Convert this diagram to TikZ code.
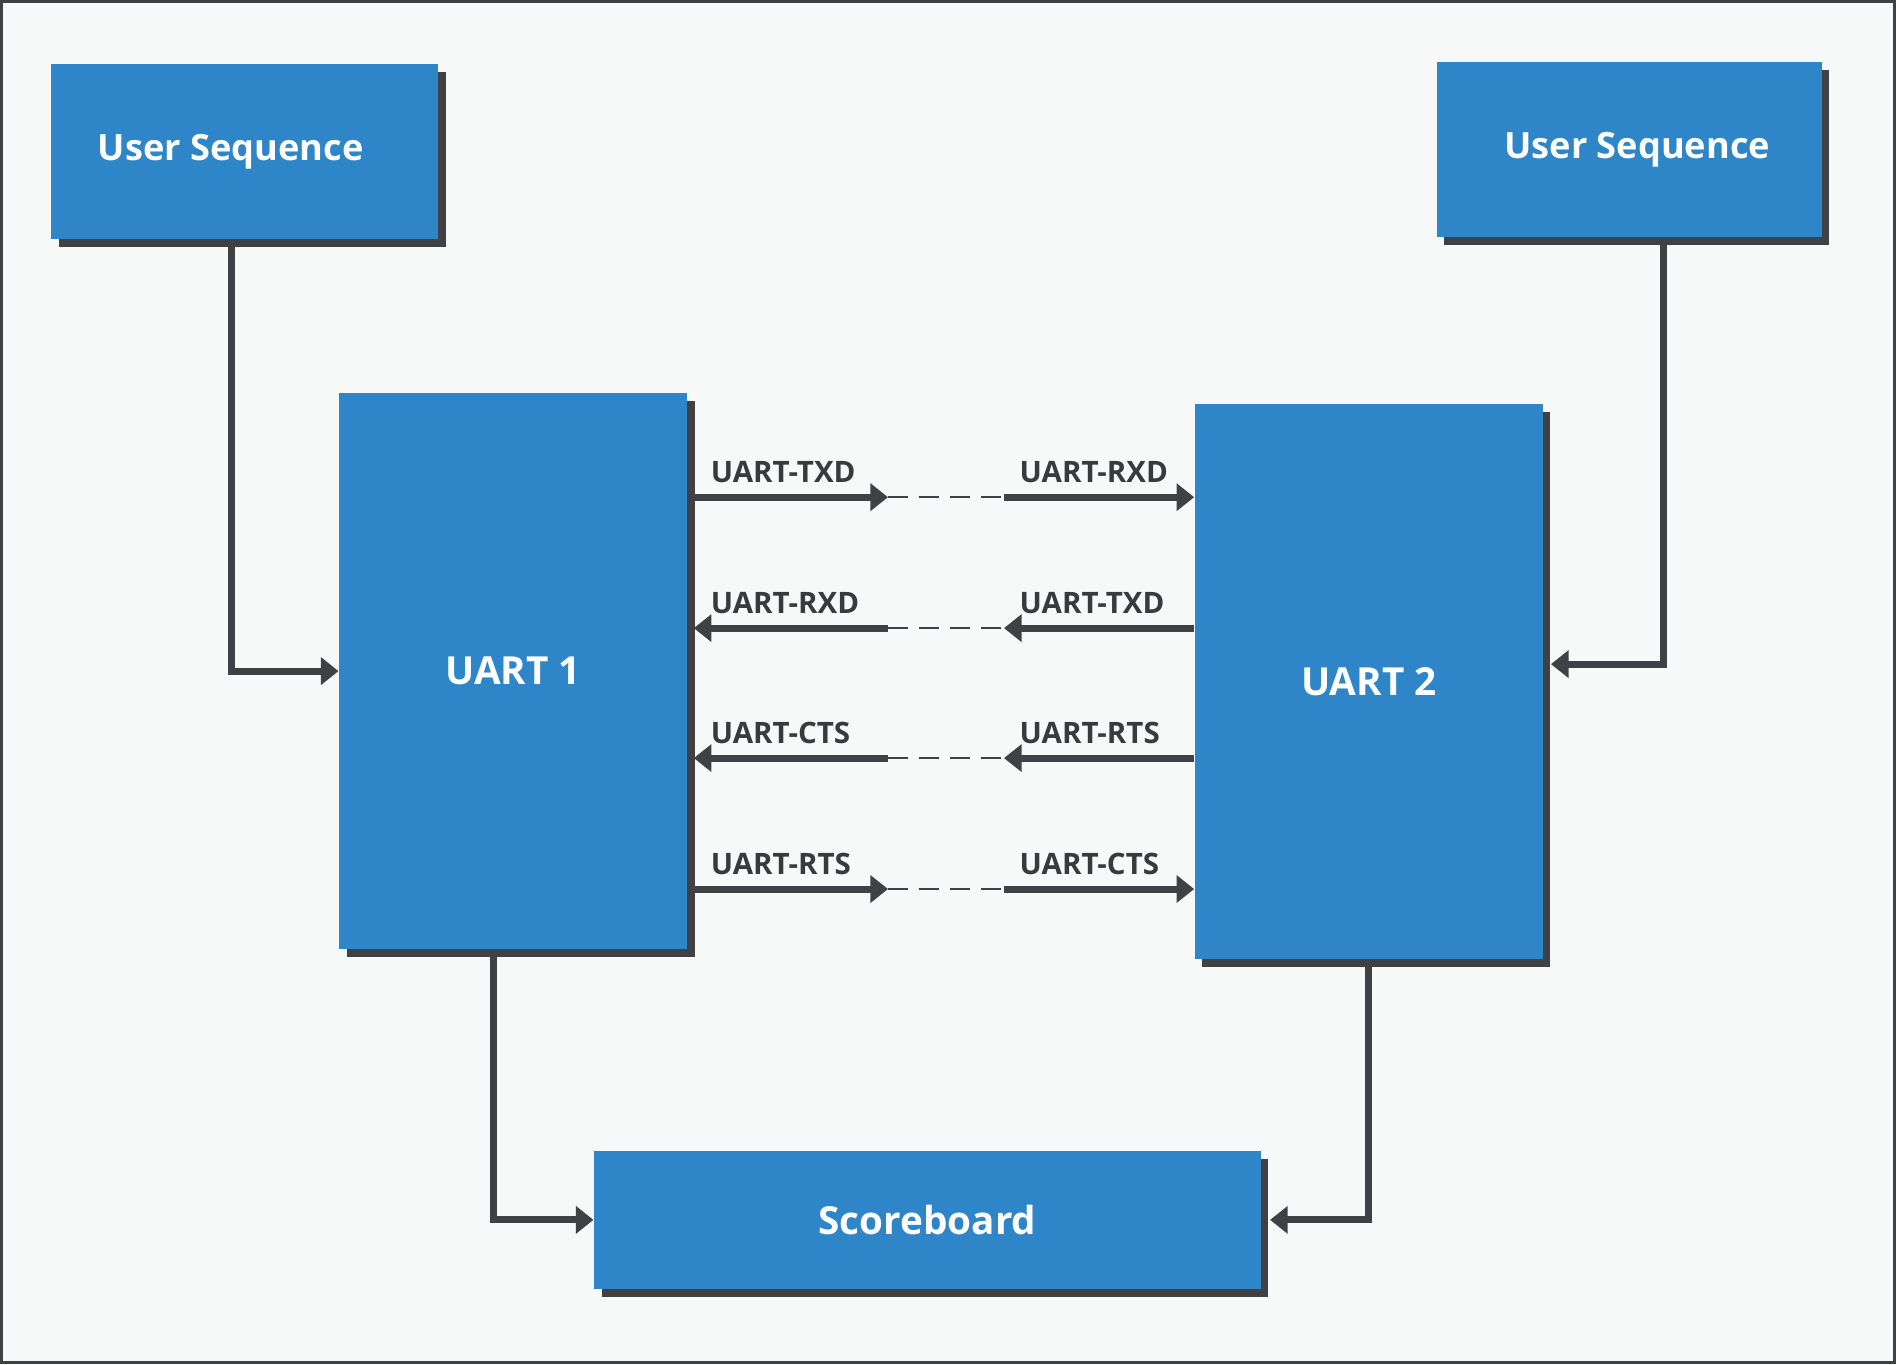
\documentclass[tikz,border=0pt]{standalone}
\usepackage{fontspec}
\setmainfont{Open Sans}
\usetikzlibrary{arrows.meta,shadows}
\definecolor{boxblue}{RGB}{46,134,200}
\definecolor{linegray}{RGB}{64,65,69}
\definecolor{paper}{RGB}{247,249,249}
\definecolor{labelgray}{RGB}{58,58,60}

\begin{document}
\begin{tikzpicture}[
	block/.style={fill=boxblue, text=white, font=\fontsize{11}{13}\selectfont\bfseries, inner sep=0pt,
		drop shadow={shadow xshift=0.075cm, shadow yshift=-0.08cm, fill=linegray, opacity=1}},
	seqblock/.style={block, font=\fontsize{10.3}{12}\selectfont\bfseries, minimum height=1.75cm},
	link/.style={draw=linegray, line width=2pt, -{Triangle[length=5pt,width=7.6pt]}},
	wire/.style={draw=linegray, line width=0.6pt, dash pattern=on 0.2cm off 0.11cm},
	sig/.style={text=labelgray, font=\fontsize{8.4}{10}\selectfont\bfseries, inner sep=0pt, anchor=base west}]
		\fill [paper, draw=linegray, line width=0.8pt] (0.01,0.01) rectangle (18.95,13.63);
		\node[seqblock, minimum width=3.87cm] (seq1) at (2.445,12.125) {\hspace*{-0.28cm}User Sequence};
		\node[seqblock, minimum width=3.85cm] (seq2) at (16.295,12.145) {\hspace*{0.16cm}User Sequence};
		\node[block, minimum width=3.48cm, minimum height=5.56cm] (uart1) at (5.13,6.93) {UART 1};
		\node[block, minimum width=3.48cm, minimum height=5.55cm] (uart2) at (13.69,6.825) {UART 2};
		\node[block, minimum width=6.67cm, minimum height=1.38cm] (score) at (9.275,1.44) {Scoreboard};
		\coordinate (l1) at (8.88,8.67);
		\coordinate (r1) at (10.04,8.67);
		\coordinate (l2) at (8.88,7.36);
		\coordinate (r2) at (10.04,7.36);
		\coordinate (l3) at (8.88,6.06);
		\coordinate (r3) at (10.04,6.06);
		\coordinate (l4) at (8.88,4.75);
		\coordinate (r4) at (10.04,4.75);
		\draw[link] ([xshift=-0.135cm]seq1.south) |- (uart1.west);
		\draw[link] ([xshift=0.345cm]seq2.south) |- ([xshift=0.075cm,yshift=0.175cm]uart2.east);
		\draw[link] ([xshift=-0.2cm]uart1.south) |- (score.west);
		\draw[link] (uart2.south) |- ([xshift=0.085cm]score.east);
		\draw[link] ([xshift=0.06cm]uart1.east |- l1) -- (l1);
		\draw[wire] (l1) -- (r1);
		\draw[link] (r1) -- (uart2.west |- r1);
		\draw[link] (l2) -- ([xshift=0.06cm]uart1.east |- l2);
		\draw[wire] (l2) -- (r2);
		\draw[link] (uart2.west |- r2) -- (r2);
		\draw[link] (l3) -- ([xshift=0.06cm]uart1.east |- l3);
		\draw[wire] (l3) -- (r3);
		\draw[link] (uart2.west |- r3) -- (r3);
		\draw[link] ([xshift=0.06cm]uart1.east |- l4) -- (l4);
		\draw[wire] (l4) -- (r4);
		\draw[link] (r4) -- (uart2.west |- r4);
		\node[sig] (txd1) at (7.10,8.815) {UART-TXD};
		\node[sig] (rxd2) at (10.19,8.815) {UART-RXD};
		\node[sig] (rxd1) at (7.10,7.505) {UART-RXD};
		\node[sig] (txd2) at (10.19,7.505) {UART-TXD};
		\node[sig] (cts1) at (7.10,6.205) {UART-CTS};
		\node[sig] (rts2) at (10.19,6.205) {UART-RTS};
		\node[sig] (rts1) at (7.10,4.895) {UART-RTS};
		\node[sig] (cts2) at (10.19,4.895) {UART-CTS};
	\end{tikzpicture}
\end{document}
